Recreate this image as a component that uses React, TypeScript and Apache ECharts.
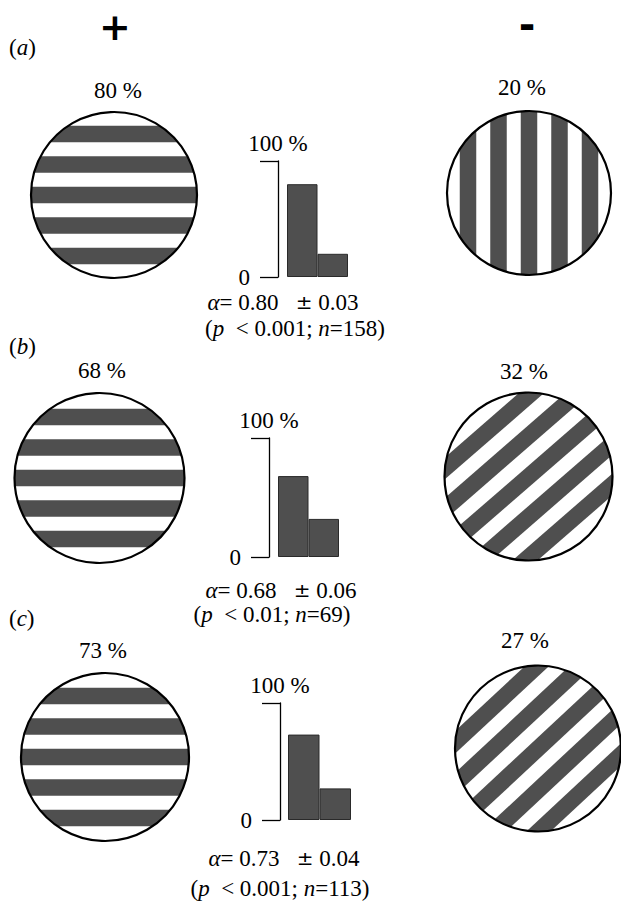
import React, { useEffect, useRef } from "react";
import * as echarts from "echarts";

// Choice results for three stimulus pairs: share of choices (%) for the
// horizontally striped disc (+) and for the rotated disc (-).
const panelLetters = ["a", "b", "c"];
const positiveShare = [80, 68, 73];
const negativeShare = [20, 32, 27];
const alphaValues = ["0.80", "0.68", "0.73"];
const alphaErrors = ["0.03", "0.06", "0.04"];
const pThresholds = ["0.001", "0.01", "0.001"];
const sampleSizes = [158, 69, 113];
const barCategories = ["+", "-"];
const axisTicks = [0, 100];

const W = 621;
const H = 901;
const SERIF = "Liberation Serif";
const SANS = "DejaVu Sans";
const INK = "#000";
const STIPPLE = "#4f4f4f";
const FS = 23;

// layout of each row: discs, bar grid, text anchors
const rows = [
  {
    letterY: 47,
    left: { cx: 114, cy: 195, r: 83, angle: 0, labelX: 118, labelY: 90 },
    right: { cx: 529, cy: 193, r: 82, angle: 90, labelX: 522, labelY: 87 },
    grid: { left: 287, top: 161, width: 61, height: 116, offset: 9 },
    alpha: { x: 283, y: 302 },
    stats: { x: 295, y: 328 },
  },
  {
    letterY: 346,
    left: { cx: 99.5, cy: 478, r: 85, angle: 0, labelX: 102, labelY: 370 },
    right: { cx: 528.5, cy: 476.5, r: 84, angle: 41, labelX: 524, labelY: 371 },
    grid: { left: 278, top: 438, width: 61, height: 119, offset: 9 },
    alpha: { x: 281, y: 590 },
    stats: { x: 272, y: 614 },
  },
  {
    letterY: 618,
    left: { cx: 105, cy: 757, r: 84, angle: 0, labelX: 103, labelY: 650 },
    right: { cx: 538, cy: 748.5, r: 83, angle: 43, labelX: 525, labelY: 640 },
    grid: { left: 288, top: 703, width: 63, height: 117, offset: 8 },
    alpha: { x: 284, y: 858 },
    stats: { x: 280, y: 888 },
  },
];

const STRIPE_PERIOD = 30.5;
const STRIPE_WIDTH = 16.5;
const STRIPE_COUNT = 5;

// polygons for the dark bands of a striped disc, bands run along `angleDeg`
function stripedDisc(cx: number, cy: number, r: number, angleDeg: number) {
  const t = (angleDeg * Math.PI) / 180;
  const ux = Math.cos(t);
  const uy = -Math.sin(t);
  const nx = Math.sin(t);
  const ny = Math.cos(t);
  const els: any[] = [];
  const half = (STRIPE_COUNT - 1) / 2;
  for (let k = -half; k <= half; k++) {
    const a = Math.max(-r + 0.3, k * STRIPE_PERIOD - STRIPE_WIDTH / 2);
    const b = Math.min(r - 0.3, k * STRIPE_PERIOD + STRIPE_WIDTH / 2);
    if (b <= a) continue;
    const pts: number[][] = [];
    const N = 14;
    for (let s = 0; s <= N; s++) {
      const d = a + ((b - a) * s) / N;
      const x = Math.sqrt(Math.max(0, r * r - d * d));
      pts.push([cx + x * ux + d * nx, cy + x * uy + d * ny]);
    }
    for (let s = N; s >= 0; s--) {
      const d = a + ((b - a) * s) / N;
      const x = -Math.sqrt(Math.max(0, r * r - d * d));
      pts.push([cx + x * ux + d * nx, cy + x * uy + d * ny]);
    }
    els.push({
      type: "polygon",
      shape: { points: pts },
      style: { fill: STIPPLE, stroke: "none" },
      silent: true,
    });
  }
  els.push({
    type: "circle",
    shape: { cx, cy, r },
    style: { fill: "none", stroke: INK, lineWidth: 2.2 },
    silent: true,
  });
  return els;
}

function text(str: string, x: number, y: number, extra: any = {}) {
  return {
    type: "text",
    x,
    y,
    silent: true,
    style: {
      text: str,
      fontFamily: SERIF,
      fontSize: FS,
      fill: INK,
      align: "center",
      verticalAlign: "middle",
      ...extra,
    },
  };
}

const italicRich = {
  it: { fontFamily: SERIF, fontStyle: "italic", fontSize: FS, fill: INK },
  pm: { fontFamily: SANS, fontSize: 20, fill: INK },
};

export default function App() {
  const ref = useRef<HTMLDivElement>(null);

  useEffect(() => {
    if (!ref.current) return;
    const chart = echarts.init(ref.current, undefined, { renderer: "svg" });

    const graphics: any[] = [
      text("+", 115, 27, { fontFamily: SANS, fontSize: 38, fontWeight: "bold" }),
      text("-", 527, 25, { fontFamily: SANS, fontSize: 40, fontWeight: "bold" }),
    ];

    rows.forEach((row, i) => {
      graphics.push(
        text(`({it|${panelLetters[i]}})`, 9, row.letterY, {
          align: "left",
          rich: italicRich,
        })
      );
      graphics.push(...stripedDisc(row.left.cx, row.left.cy, row.left.r, row.left.angle));
      graphics.push(...stripedDisc(row.right.cx, row.right.cy, row.right.r, row.right.angle));
      graphics.push(text(`${positiveShare[i]} %`, row.left.labelX, row.left.labelY));
      graphics.push(text(`${negativeShare[i]} %`, row.right.labelX, row.right.labelY));
      graphics.push(
        text(`{it|α}= ${alphaValues[i]}   {pm|±} ${alphaErrors[i]}`, row.alpha.x, row.alpha.y, {
          rich: italicRich,
        })
      );
      graphics.push(
        text(
          `({it|p}  < ${pThresholds[i]}; {it|n}=${sampleSizes[i]})`,
          row.stats.x,
          row.stats.y,
          { rich: italicRich }
        )
      );
    });

    chart.setOption({
      animation: false,
      backgroundColor: "#fff",
      textStyle: { fontFamily: SERIF },
      grid: rows.map((row) => ({
        left: row.grid.left,
        top: row.grid.top,
        width: row.grid.width,
        height: row.grid.height,
        containLabel: false,
      })),
      xAxis: rows.map((_, i) => ({
        type: "category",
        gridIndex: i,
        data: barCategories,
        boundaryGap: true,
        axisLine: { show: false },
        axisTick: { show: false },
        axisLabel: { show: false },
        splitLine: { show: false },
      })),
      yAxis: rows.map((row, i) => ({
        type: "value",
        gridIndex: i,
        min: axisTicks[0],
        max: axisTicks[1],
        interval: axisTicks[1] - axisTicks[0],
        offset: row.grid.offset,
        name: `${axisTicks[1]} %`,
        nameLocation: "end",
        nameGap: 6,
        nameTextStyle: { fontFamily: SERIF, fontSize: FS, color: INK },
        axisLine: { show: true, lineStyle: { color: INK, width: 1.3 } },
        axisTick: { show: true, length: 18, lineStyle: { color: INK, width: 1.3 } },
        splitLine: { show: false },
        axisLabel: {
          formatter: (v: number) => (v === axisTicks[0] ? String(v) : ""),
          margin: 28,
          fontFamily: SERIF,
          fontSize: FS,
          color: INK,
        },
      })),
      series: rows.map((_, i) => ({
        type: "bar",
        xAxisIndex: i,
        yAxisIndex: i,
        data: [positiveShare[i], negativeShare[i]],
        barCategoryGap: "0%",
        itemStyle: { color: STIPPLE, borderColor: "#2a2a2a", borderWidth: 1 },
        silent: true,
      })),
      graphic: graphics,
    });

    return () => chart.dispose();
  }, []);

  return (
    <div
      ref={ref}
      style={{ position: "absolute", left: 0, top: 0, width: W, height: H, background: "#fff" }}
    />
  );
}
